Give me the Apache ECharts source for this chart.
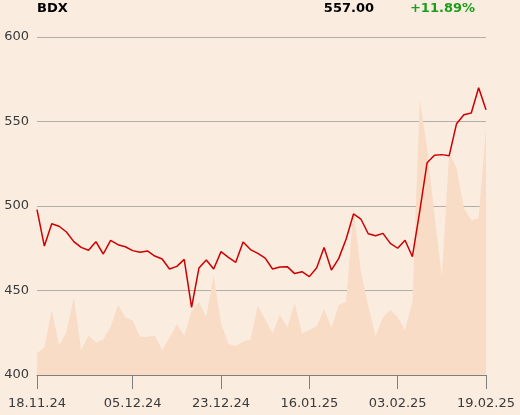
<!DOCTYPE html>
<html>
<head>
<meta charset="utf-8">
<script src="https://cdn.jsdelivr.net/npm/echarts@6/dist/echarts.min.js"></script>
<style>
  html, body { margin: 0; padding: 0; background: #fbece0; }
  #chart { width: 520px; height: 415px; }
</style>
</head>
<body>
<div id="chart"></div>
<script>
// trading days shown on the category axis
const dates = [
  '18.11.24','19.11.24','20.11.24','21.11.24','22.11.24','25.11.24','26.11.24','27.11.24','28.11.24','29.11.24',
  '02.12.24','03.12.24','04.12.24','05.12.24','06.12.24','09.12.24','10.12.24','11.12.24','12.12.24','13.12.24',
  '16.12.24','17.12.24','18.12.24','19.12.24','20.12.24','23.12.24','27.12.24','30.12.24','03.01.25','06.01.25',
  '07.01.25','08.01.25','09.01.25','10.01.25','13.01.25','14.01.25','15.01.25','16.01.25','17.01.25','20.01.25',
  '21.01.25','22.01.25','23.01.25','24.01.25','27.01.25','28.01.25','29.01.25','30.01.25','31.01.25','03.02.25',
  '04.02.25','05.02.25','06.02.25','07.02.25','10.02.25','11.02.25','12.02.25','13.02.25','14.02.25','17.02.25',
  '18.02.25','19.02.25'
];
const tickLabels = ['18.11.24', '05.12.24', '23.12.24', '16.01.25', '03.02.25', '19.02.25'];

// index level
const price = [
  497.8, 476.3, 489.5, 488.0, 484.6, 478.9, 475.5, 473.8, 478.9, 471.6,
  479.7, 477.1, 475.9, 473.6, 472.6, 473.4, 470.4, 468.6, 462.7, 464.3,
  468.4, 440.0, 463.3, 468.0, 462.7, 473.0, 469.6, 466.7, 478.7, 474.2,
  472.0, 469.2, 462.7, 463.9, 464.1, 460.0, 461.1, 458.2, 463.5, 475.5,
  462.1, 469.0, 480.5, 495.3, 492.3, 483.6, 482.4, 483.8, 477.9, 475.0,
  479.7, 470.0, 497.0, 525.6, 530.0, 530.4, 529.8, 548.7, 554.0, 555.0,
  570.0, 557.0
];

// volume (relative scale)
const volume = [
  6.4, 8.1, 19.2, 8.7, 12.8, 23.0, 7.4, 11.7, 9.6, 10.5,
  14.3, 20.7, 17.1, 16.1, 11.3, 11.3, 11.7, 7.4, 11.0, 15.0,
  11.6, 18.9, 21.6, 17.2, 29.6, 15.3, 9.2, 8.6, 9.9, 10.5,
  20.5, 16.5, 12.3, 17.8, 14.1, 21.2, 12.3, 13.3, 14.4, 19.5,
  14.0, 20.7, 21.7, 49.4, 30.6, 20.4, 11.5, 17.1, 19.2, 17.1,
  13.3, 21.7, 81.4, 67.1, 47.3, 29.1, 65.8, 61.2, 49.3, 45.7,
  46.5, 73.0
];

const last = price[price.length - 1];
const change = (last / price[0] - 1) * 100;

const chart = echarts.init(document.getElementById('chart'));
const font = 'DejaVu Sans';

const option = {
  backgroundColor: '#fbece0',
  animation: false,
  textStyle: { fontFamily: font },
  graphic: [
    {
      type: 'text', left: 37, top: 2,
      style: { text: 'BDX', font: 'bold 13px "DejaVu Sans"', fill: '#000' }
    },
    {
      type: 'text', right: 146, top: 2,
      style: { text: last.toFixed(2), font: 'bold 13px "DejaVu Sans"', fill: '#000', textAlign: 'right' }
    },
    {
      type: 'text', right: 45, top: 2,
      style: { text: (change >= 0 ? '+' : '') + change.toFixed(2) + '%', font: 'bold 13px "DejaVu Sans"', fill: '#1a9e1a', textAlign: 'right' }
    }
  ],
  grid: { left: 37, right: 34, top: 37, bottom: 40, containLabel: false },
  xAxis: {
    type: 'category',
    data: dates,
    boundaryGap: false,
    axisLine: { lineStyle: { color: '#7f7f7f', width: 1 } },
    axisTick: {
      length: 14,
      lineStyle: { color: '#7f7f7f' },
      interval: (i, v) => tickLabels.includes(v)
    },
    axisLabel: {
      interval: (i, v) => tickLabels.includes(v),
      color: '#3a3a3a',
      fontSize: 13,
      fontFamily: font,
      margin: 22
    },
    splitLine: { show: false }
  },
  yAxis: [
    {
      type: 'value',
      min: 400,
      max: 600,
      interval: 50,
      axisLine: { show: false },
      axisTick: { show: false },
      axisLabel: { color: '#3a3a3a', fontSize: 13, fontFamily: font, margin: 8 },
      splitLine: { lineStyle: { color: '#b3aeaa', width: 1 } }
    },
    {
      type: 'value',
      min: 0,
      max: 100,
      show: false
    }
  ],
  series: [
    {
      name: 'Volume',
      type: 'line',
      yAxisIndex: 1,
      data: volume,
      symbol: 'none',
      lineStyle: { width: 0 },
      areaStyle: { color: '#f8dcc6', opacity: 1 },
      z: 1
    },
    {
      name: 'BDX',
      type: 'line',
      data: price,
      symbol: 'none',
      lineStyle: { color: '#cc0000', width: 1.5 },
      z: 3
    }
  ]
};

chart.setOption(option);
</script>
</body>
</html>
